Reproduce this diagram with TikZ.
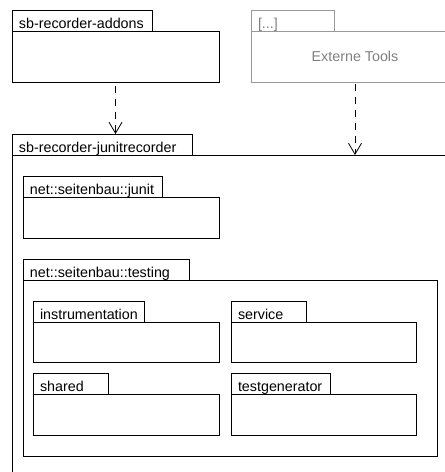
\documentclass[tikz,border=0pt]{standalone}
\usepackage{fontspec}
\setmainfont{Liberation Sans}
\usetikzlibrary{arrows.meta,positioning}
\begin{document}
\begin{tikzpicture}[x=1pt,y=-1pt,
	  pkgfont/.style={font=\fontsize{14.3}{16}\selectfont},
	  body/.style={draw,line width=0.8pt,anchor=north west,inner sep=0pt,outer sep=0pt,pkgfont},
	  tab/.style={draw,line width=0.8pt,anchor=south west,inner xsep=7pt,inner ysep=2.5pt,outer sep=0pt,
	    text height=16pt,text depth=0pt,align=left,pkgfont},
	  ghost/.style={draw=black!40,text=black!50},
	  dep/.style={line width=0.8pt,dash pattern=on 7pt off 6pt,-{Straight Barb[length=11pt,width=13pt]}}]
	  \clip (0,0) rectangle (445,472);
	  \node[body,minimum width=207pt,minimum height=51pt] (addons) at (12,31) {};
	  \node[tab,text width=126pt] (addonsTab) at (addons.north west) {sb-recorder-addons};
	  \node[body,ghost,minimum width=208pt,minimum height=51pt] (externe) at (251,31) {Externe Tools};
	  \node[tab,ghost,text width=69pt] (externeTab) at (externe.north west) {[...]};
	  \node[body,minimum width=470pt,minimum height=340pt] (recorder) at (12,155) {};
	  \node[tab,text width=166pt] (recorderTab) at (recorder.north west) {sb-recorder-junitrecorder};
	  \node[body,minimum width=196pt,minimum height=41pt] (junit) at (23,197) {};
	  \node[tab,text width=125pt] (junitTab) at (junit.north west) {net::seitenbau::junit};
	  \node[body,minimum width=414pt,minimum height=176pt] (testing) at (23,280) {};
	  \node[tab,text width=152pt] (testingTab) at (testing.north west) {net::seitenbau::testing};
	  \node[body,minimum width=186pt,minimum height=40pt] (instr) at (33,322) {};
	  \node[tab,text width=97pt] (instrTab) at (instr.north west) {instrumentation};
	  \node[body,minimum width=185pt,minimum height=40pt] (service) at (231,322) {};
	  \node[tab,text width=61pt] (serviceTab) at (service.north west) {service};
	  \node[body,minimum width=186pt,minimum height=41pt] (shared) at (33,394) {};
	  \node[tab,text width=61pt] (sharedTab) at (shared.north west) {shared};
	  \node[body,minimum width=185pt,minimum height=41pt] (testgen) at (231,394) {};
	  \node[tab,text width=85pt] (testgenTab) at (testgen.north west) {testgenerator};
	  \coordinate (addonsIn) at (addons.south |- recorderTab.north);
	  \coordinate (externeIn) at (externe.south |- recorder.north);
	  \draw[dep,shorten <=4pt] (addons) -- (addonsIn);
	  \draw[dep,shorten <=2pt] (externe) -- (externeIn);
	\end{tikzpicture}
\end{document}
